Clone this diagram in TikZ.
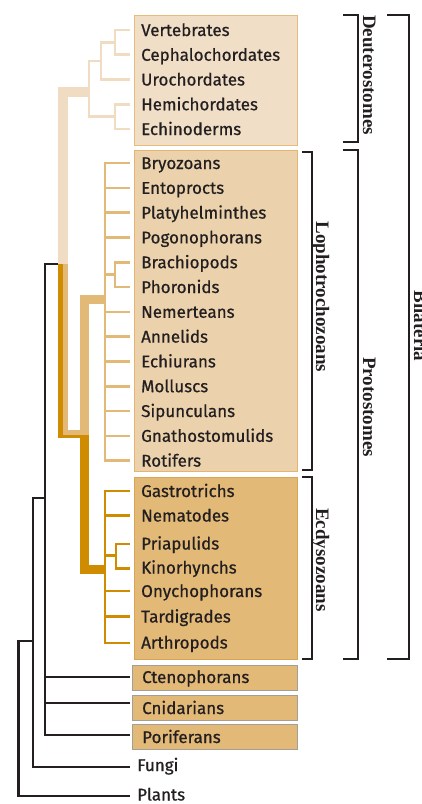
\documentclass[tikz,border=0pt]{standalone}
\usepackage{fontspec}
\setmainfont{Fira Sans}
\newfontfamily\lblfont[BoldFont={Fira Sans},BoldFeatures={FakeBold=0.7}]{Fira Sans}
\newfontfamily\brfont{Liberation Serif}
\definecolor{deutline}{HTML}{EFDCC2}
\definecolor{deutfill}{HTML}{F0DEC6}
\definecolor{deutborder}{HTML}{E6BC78}
\definecolor{lophofill}{HTML}{EBD2AC}
\definecolor{lophoborder}{HTML}{E3B56E}
\definecolor{lopholine}{HTML}{E3B978}
\definecolor{ecdyfill}{HTML}{E3B978}
\definecolor{ecdyborder}{HTML}{DAA552}
\definecolor{ecdyline}{HTML}{D08C00}
\definecolor{grayborder}{HTML}{A39E98}
\definecolor{blk}{HTML}{231F20}
\begin{document}
\begin{tikzpicture}[x=1pt,y=-1pt,
  lbl/.style={anchor=base west,inner sep=0pt,font=\lblfont\bfseries\fontsize{17}{18}\selectfont,text=blk},
  clade/.style={anchor=base,rotate=-90,inner sep=0pt,font=\brfont\bfseries\fontsize{19}{20}\selectfont,text=blk},
  dl/.style={line width=2.6pt,deutline},
  ll/.style={line width=2.6pt,lopholine},
  el/.style={line width=2.6pt,ecdyline},
  bl/.style={line width=2.2pt,blk},
  brk/.style={line width=2pt,blk},
  boxbase/.style={anchor=north west,inner sep=0pt,line width=1.4pt},
  deutbox/.style={boxbase,draw=deutborder,fill=deutfill},
  lophobox/.style={boxbase,draw=lophoborder,fill=lophofill},
  ecdybox/.style={boxbase,draw=ecdyborder,fill=ecdyfill},
  graybox/.style={boxbase,draw=grayborder,fill=ecdyfill}]
\useasboundingbox (0,0) rectangle (421,804);

% boxes
\node[deutbox,minimum width=163pt,minimum height=130pt] (bdeut) at (134,15) {};
\node[lophobox,minimum width=163pt,minimum height=321pt] (blopho) at (134,150) {};
\node[ecdybox,minimum width=163pt,minimum height=182pt] (becdy) at (134,477) {};
\node[graybox,minimum width=165pt,minimum height=25pt] (bcteno) at (132,665) {};
\node[graybox,minimum width=165pt,minimum height=25pt] (bcnid) at (132,695) {};
\node[graybox,minimum width=165pt,minimum height=25pt] (bpori) at (132,724) {};

% deuterostome labels
\node[lbl] (vert) at (141,36) {Vertebrates};
\node[lbl] (ceph) at (141,60.75) {Cephalochordates};
\node[lbl] (uro) at (141,85.5) {Urochordates};
\node[lbl] (hemi) at (141,110.25) {Hemichordates};
\node[lbl] (echi) at (141,135) {Echinoderms};
% lophotrochozoan labels
\node[lbl] (bryo) at (141,169) {Bryozoans};
\node[lbl] (ento) at (141,193.8) {Entoprocts};
\node[lbl] (platy) at (141,218.6) {Platyhelminthes};
\node[lbl] (pogo) at (141,243.4) {Pogonophorans};
\node[lbl] (brach) at (141,268.2) {Brachiopods};
\node[lbl] (phor) at (141,293) {Phoronids};
\node[lbl] (nem) at (141,317.8) {Nemerteans};
\node[lbl] (ann) at (141,342.6) {Annelids};
\node[lbl] (echiu) at (141,367.4) {Echiurans};
\node[lbl] (moll) at (141,392.2) {Molluscs};
\node[lbl] (sip) at (141,417) {Sipunculans};
\node[lbl] (gna) at (141,441.8) {Gnathostomulids};
\node[lbl] (rot) at (141,466.6) {Rotifers};
% ecdysozoan labels
\node[lbl] (gas) at (141,497) {Gastrotrichs};
\node[lbl] (nema) at (141,521.5) {Nematodes};
\node[lbl] (pria) at (141,549.5) {Priapulids};
\node[lbl] (kino) at (141,573.5) {Kinorhynchs};
\node[lbl] (onych) at (141,597) {Onychophorans};
\node[lbl] (tard) at (141,622.5) {Tardigrades};
\node[lbl] (arth) at (141,648.5) {Arthropods};
% others
\node[lbl] (cteno) at (142,683) {Ctenophorans};
\node[lbl] (cnid) at (142,714) {Cnidarians};
\node[lbl] (pori) at (142,743) {Poriferans};
\node[lbl] (fungi) at (137,771) {Fungi};
\node[lbl] (plants) at (137,800.5) {Plants};

% deuterostome tree
\draw[line width=10pt,deutline] (63,264) -- (63,92) -- (89,92);
\draw[dl] (130,30) -- (115,30) -- (115,54.75) -- (130,54.75);
\draw[dl] (115,42.4) -- (101,42.4) -- (101,79.5) -- (130,79.5);
\draw[dl] (101,61) -- (89,61) -- (89,116.6) -- (115,116.6);
\draw[dl] (130,104.25) -- (115,104.25) -- (115,129) -- (130,129);

% protostome trunk
\draw[line width=5pt,ecdyline] (60.5,264) -- (60.5,435.5) -- (84.5,435.5);
\draw[line width=9pt,ecdyline] (84.5,435) -- (84.5,569) -- (105,569);
\draw[line width=9pt,lopholine] (84.5,435) -- (84.5,299.5) -- (105,299.5);
\draw[line width=5pt,lopholine] (65.5,264) -- (65.5,432.5) -- (82,432.5);

% lophotrochozoan tree
\draw[ll] (130,163) -- (105,163) -- (105,460.6) -- (130,460.6);
\foreach \yy in {187.8,212.6,237.4,311.8,336.6,361.4,386.2,411,435.8}
  \draw[ll] (105,\yy) -- (130,\yy);
\draw[ll] (130,262.2) -- (115,262.2) -- (115,287) -- (130,287);
\draw[ll] (105,274.6) -- (115,274.6);

% ecdysozoan tree
\draw[el] (130,491) -- (105,491) -- (105,643) -- (130,643);
\foreach \yy in {515.3,591,616.7}
  \draw[el] (105,\yy) -- (130,\yy);
\draw[el] (130,544) -- (116,544) -- (116,568.3) -- (130,568.3);
\draw[el] (105,555.5) -- (116,555.5);

% black tree
\draw[bl] (58,264) -- (45,264) -- (45,735) -- (130,735);
\draw[bl] (45,677.3) -- (130,677.3);
\draw[bl] (45,703.3) -- (130,703.3);
\draw[bl] (45,498) -- (33,498) -- (33,766.7) -- (130,766.7);
\draw[bl] (33,641) -- (18.5,641) -- (18.5,796) -- (130,796);

% brackets
\draw[brk] (343,15) -- (358,15) -- (358,142) -- (343,142);
\draw[brk] (343,150) -- (358,150) -- (358,659) -- (343,659);
\draw[brk] (302,152) -- (312,152) -- (312,470) -- (302,470);
\draw[brk] (302,477) -- (312,477) -- (312,659) -- (302,659);
\draw[brk] (387,15) -- (409,15) -- (409,659) -- (387,659);

\node[clade] (tdeut) at (363,75) {Deuterostomes};
\node[clade] (tproto) at (363,407) {Protostomes};
\node[clade] (tlopho) at (316,297) {Lophotrochozoans};
\node[clade] (tecdy) at (316,560) {Ecdysozoans};
\node[clade] (tbil) at (414,326) {Bilateria};
\end{tikzpicture}
\end{document}
